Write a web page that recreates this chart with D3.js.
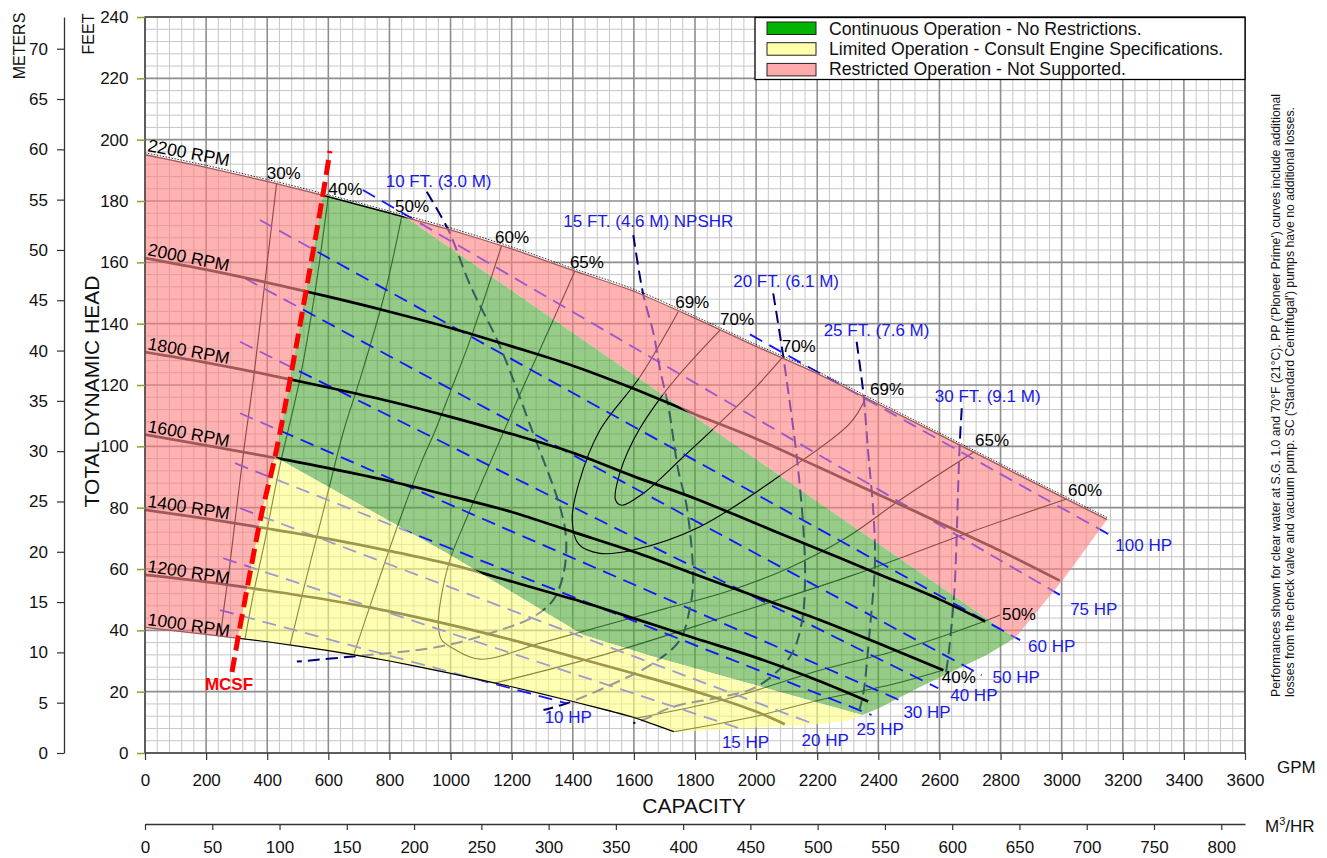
<!DOCTYPE html>
<html>
<head>
<meta charset="utf-8">
<script src="https://cdn.jsdelivr.net/npm/d3@7"></script>
<style>
  body { margin: 0; background: #fff; }
  svg { display: block; font-family: "Liberation Sans", Arial, sans-serif; }
</style>
</head>
<body>
<script>
// ---------- values (x = GPM, y = feet of head) ----------
const gpmTicks = [0, 200, 400, 600, 800, 1000, 1200, 1400, 1600, 1800, 2000, 2200, 2400, 2600, 2800, 3000, 3200, 3400, 3600];
const feetTicks = [0, 20, 40, 60, 80, 100, 120, 140, 160, 180, 200, 220, 240];
const meterTicks = [0, 5, 10, 15, 20, 25, 30, 35, 40, 45, 50, 55, 60, 65, 70];
const m3hTicks = [0, 50, 100, 150, 200, 250, 300, 350, 400, 450, 500, 550, 600, 650, 700, 750, 800];

// speed curves
const rpmNames = ['1000 RPM', '1200 RPM', '1400 RPM', '1600 RPM', '1800 RPM', '2000 RPM', '2200 RPM'];
const rpm1000 = [[0, 40.8], [200, 38.5], [400, 36.1], [600, 33.2], [800, 29.8], [1000, 25.8], [1200, 21.4], [1400, 16.6], [1600, 11.4], [1730, 6.8]];
const rpm1200 = [[0, 58.1], [200, 55.8], [400, 53.0], [600, 49.9], [800, 46.2], [1000, 41.8], [1200, 36.9], [1400, 31.4], [1600, 25.9], [1800, 20.1], [2000, 13.5], [2094, 9.4]];
const rpm1400 = [[0, 79.3], [200, 76.4], [400, 73.2], [600, 69.8], [800, 65.9], [1000, 61.5], [1200, 55.9], [1400, 50.2], [1600, 43.9], [1800, 37.4], [2000, 31.1], [2200, 23.7], [2367, 16.8]];
const rpm1600 = [[0, 103.8], [200, 100.3], [400, 96.7], [600, 92.9], [800, 88.7], [1000, 83.8], [1200, 78.6], [1400, 72.1], [1600, 65.6], [1800, 58.3], [2000, 51.0], [2200, 43.7], [2400, 35.8], [2613, 27.0]];
const rpm1800 = [[0, 130.7], [200, 127.3], [400, 123.4], [600, 119.2], [800, 114.7], [1000, 109.6], [1200, 104.0], [1400, 97.9], [1600, 90.2], [1800, 83.0], [2000, 74.8], [2200, 66.6], [2400, 58.4], [2600, 50.1], [2750, 42.9]];
const rpm2000 = [[0, 161.4], [200, 157.6], [400, 153.4], [600, 148.8], [800, 143.9], [1000, 138.6], [1200, 132.6], [1400, 126.3], [1600, 118.8], [1800, 110.5], [2000, 102.5], [2200, 93.4], [2400, 84.3], [2600, 75.1], [2800, 65.9], [2994, 56.2]];
const rpm2200 = [[0, 195.3], [200, 191.2], [400, 186.6], [600, 181.6], [800, 176.3], [1000, 170.8], [1200, 164.6], [1400, 157.6], [1600, 150.8], [1800, 142.0], [2000, 132.8], [2200, 124.0], [2400, 114.0], [2600, 104.0], [2800, 93.9], [3000, 83.8], [3150, 76.3]];

// region borders
const mcsfLine = [[284.7, 26.4], [310.9, 41.1], [350, 62], [382, 78.2], [425.4, 96.5], [474.5, 121.6], [533.4, 154.2], [579.3, 180.3], [605.4, 196.3]];
const pinkGreenEdge = [[834, 176], [2847, 37.5]];
const greenYellowEdge = [[425.4, 96.5], [1000, 64.5], [1434, 38.5], [1664, 31.4], [2329, 12.9]];
const envelopeEnd = [[1730, 6.8], [2000, 8.3], [2200, 9.4], [2300, 10.5], [2400, 14.5], [2536, 21.5], [2756, 32], [2847, 37.5], [3004, 56.4], [3150, 76.3]];

// efficiency contours
const eff30L = [[431, 186], [393, 154], [355, 122], [325, 100], [300, 80], [276, 60], [258, 47], [247, 38]];
const eff40L = [[600, 181.6], [556, 150], [507, 122], [440, 93], [390, 68], [355, 52], [327, 37]];
const eff40R = [[1728, 6.9], [2000, 12], [2209, 17.3], [2450, 22.5], [2611, 27]];
const eff50L = [[841, 175.4], [785, 150], [704, 122], [650, 105], [584, 79], [518, 53], [475, 35.3]];
const eff50R = [[1600, 11.2], [1900, 17.5], [2209, 27], [2500, 34.5], [2743, 42.8], [2798, 45]];
const eff60L = [[1167, 165.4], [1064, 134.7], [1000, 118], [945, 104], [905, 95], [830, 75], [740, 49], [684, 32.4]];
const eff60R = [[1145, 22.8], [1500, 32], [1900, 44.5], [2317, 58], [2689, 71.6], [3021, 83]];
const eff65 = [[1407, 157.2], [1336, 141.2], [1238, 119.4], [1129, 94.5], [1050, 76], [998, 63], [968, 50], [960, 42], [970, 37], [1010, 34], [1096, 30.6], [1300, 36], [1500, 41.5], [1700, 47], [1900, 52.5], [2100, 60], [2300, 70.5], [2471, 82.5], [2723, 98.8]];
const eff69 = [[1745, 143.9], [1620, 122.7], [1489, 105.3], [1420, 88], [1398, 76], [1420, 68], [1489, 65.1], [1598, 66.2], [1816, 73.8], [2089, 91.2], [2307, 107.5], [2360, 116]];
const eff70 = [[1882, 137.9], [1707, 118.4], [1598, 102], [1545, 88], [1540, 82.5], [1560, 80.8], [1631, 84.7], [1762, 96.6], [1980, 117.3], [2089, 129.3]];
const effCurves = [eff30L, eff40L, eff40R, eff50L, eff50R, eff60L, eff60R, eff65, eff69, eff70];
const effNames = ['30%', '40%', '40%', '50%', '50%', '60%', '60%', '65%', '69%', '70%'];

// horsepower lines
const hpNames = ['10 HP', '15 HP', '20 HP', '25 HP', '30 HP', '40 HP', '50 HP', '60 HP', '75 HP', '100 HP'];
const hp10 = [[245.5, 46.6], [1380, 16.2]];
const hp15 = [[256, 63.5], [1947, 8]];
const hp20 = [[311, 79.8], [2198, 9.1]];
const hp25 = [[294.5, 94.5], [2378, 12.4]];
const hp30 = [[311, 110.8], [2482, 16.7]];
const hp40 = [[311, 134.1], [2596, 21.1]];
const hp50 = [[327, 154.8], [2738, 25.4]];
const hp60 = [[376, 173.8], [2864, 36.8]];
const hp75 = [[713, 183.6], [2995, 51.5]];
const hp100 = [[1980, 136.5], [3169, 70.5]];
const hpLines = [hp10, hp15, hp20, hp25, hp30, hp40, hp50, hp60, hp75, hp100];

// NPSHR curves
const npshNames = ['10 FT. (3.0 M)', '15 FT. (4.6 M) NPSHR', '20 FT. (6.1 M)', '25 FT. (7.6 M)', '30 FT. (9.1 M)'];
const npsh10 = [[922, 183], [993, 170.5], [1064, 152.6], [1162, 132.5], [1270, 104.3], [1358, 80.3], [1378, 70], [1370, 58.6], [1336, 49.9], [1271, 44.4], [1162, 40.1], [966, 34.7], [671, 31.4], [497, 29.8]];
const npsh15 = [[1598, 168.9], [1631, 149.4], [1664, 136.9], [1686, 124.9], [1713, 112.9], [1745, 92.3], [1773, 80.3], [1794, 56.4], [1784, 47.7], [1751, 36.9], [1664, 29.3], [1511, 21.6], [1380, 16.2], [1304, 14]];
const npsh20 = [[2056, 149.9], [2084, 132.5], [2100, 121.6], [2133, 96.6], [2155, 72.7], [2160, 56.4], [2149, 42.3], [2111, 31.4], [2002, 21.6], [1893, 18.4], [1729, 15.1], [1642, 11.3], [1598, 9.7]];
const npsh25 = [[2329, 134.1], [2351, 117.3], [2367, 97.7], [2384, 78.2], [2389, 61.9], [2373, 41.2], [2351, 19.5], [2338, 14]];
const npsh30 = [[2673, 112.4], [2667, 102], [2662, 89], [2656, 69.5], [2651, 56.4], [2646, 48.8], [2629, 31.4], [2620, 25.5]];
const npshCurves = [npsh10, npsh15, npsh20, npsh25, npsh30];

const legendNames = ['Continuous Operation - No Restrictions.', 'Limited Operation - Consult Engine Specifications.', 'Restricted Operation - Not Supported.'];
const noteLines = [
  "Performances shown for clear water at S.G. 1.0 and 70\u00B0F (21\u00B0C). PP ('Pioneer Prime') curves include additional",
  "losses from the check valve and vacuum pump. SC ('Standard Centrifugal') pumps have no additional losses."
];

// ---------- layout ----------
var measurements = { width: 1327, height: 858 };
var plot = { left: 145, right: 1245, top: 17, bottom: 753 };

let svg = d3.select('body').append('svg')
    .attr('width', measurements.width)
    .attr('height', measurements.height);

var x = d3.scaleLinear().domain([0, 3600]).range([plot.left, plot.right]);
var y = d3.scaleLinear().domain([0, 240]).range([plot.bottom, plot.top]);
var xm3 = d3.scaleLinear().domain([0, 3600 / 4.40287]).range([plot.left, plot.right]);
var ym = d3.scaleLinear().domain([0, 240 * 0.3048]).range([plot.bottom, plot.top]);

function polyPath(p) {
  return 'M' + p.map(function(d) { return x(d[0]) + ',' + y(d[1]); }).join('L') + 'Z';
}
// point on line a->b (extended) where head == ft
function extendTo(a, b, ft) {
  var t = (ft - a[1]) / (b[1] - a[1]);
  return [a[0] + t * (b[0] - a[0]), ft];
}

// ---------- zones built from the borders ----------
var envelope = rpm2200.concat(envelopeEnd.slice().reverse(), rpm1000.slice().reverse());
var gy = greenYellowEdge;
var mcsfBottom = extendTo(mcsfLine[1], mcsfLine[0], -5);
var mcsfTop = extendTo(mcsfLine[mcsfLine.length - 2], mcsfLine[mcsfLine.length - 1], 215);
var pgLow = extendTo(pinkGreenEdge[0], pinkGreenEdge[1], -5);
var gyLow = extendTo(gy[gy.length - 2], gy[gy.length - 1], -5);
var mcsfUpper = mcsfLine.filter(function(d) { return d[1] > gy[0][1]; });
var mcsfLower = mcsfLine.filter(function(d) { return d[1] < gy[0][1]; });

var greenZone = [mcsfTop, pinkGreenEdge[0], pinkGreenEdge[1], pgLow, gyLow]
    .concat(gy.slice().reverse(), mcsfUpper);
var yellowZone = gy.concat([gyLow, mcsfBottom], mcsfLower);
var pinkLeft = [[-300, -5], mcsfBottom].concat(mcsfLine, [mcsfTop, [mcsfTop[0], 400], [-300, 400]]);
var pinkRight = [mcsfTop, pinkGreenEdge[0], pinkGreenEdge[1], pgLow, [6000, -5], [6000, 400], [mcsfTop[0], 400]];

var defs = svg.append('defs');
function addClip(id, polys) {
  var cp = defs.append('clipPath').attr('id', id).attr('clipPathUnits', 'userSpaceOnUse');
  polys.forEach(function(p) { cp.append('path').attr('d', polyPath(p)); });
}
addClip('clipEnv', [envelope]);
addClip('clip_pink', [pinkLeft, pinkRight]);
addClip('clip_green', [greenZone]);
addClip('clip_yellow', [yellowZone]);
defs.append('clipPath').attr('id', 'clipOut').attr('clipPathUnits', 'userSpaceOnUse')
  .append('path')
    .attr('clip-rule', 'evenodd')
    .attr('d', 'M0,0H' + measurements.width + 'V' + measurements.height + 'H0Z' + polyPath(envelope));

// ---------- grid ----------
var grid = svg.append('g');
var minorX = d3.range(0, 3601, 40).filter(function(v) { return v % 200 !== 0; });
var minorY = d3.range(0, 241, 4).filter(function(v) { return v % 20 !== 0; });
grid.selectAll('.mx').data(minorX).enter().append('line')
    .attr('x1', d => x(d)).attr('x2', d => x(d)).attr('y1', plot.top).attr('y2', plot.bottom)
    .attr('stroke', '#c6c6c6').attr('stroke-width', 1);
grid.selectAll('.my').data(minorY).enter().append('line')
    .attr('y1', d => y(d)).attr('y2', d => y(d)).attr('x1', plot.left).attr('x2', plot.right)
    .attr('stroke', '#c6c6c6').attr('stroke-width', 1);
grid.selectAll('.Mx').data(gpmTicks).enter().append('line')
    .attr('x1', d => x(d)).attr('x2', d => x(d)).attr('y1', plot.top).attr('y2', plot.bottom)
    .attr('stroke', '#8e8e8e').attr('stroke-width', 1.6);
grid.selectAll('.My').data(feetTicks).enter().append('line')
    .attr('y1', d => y(d)).attr('y2', d => y(d)).attr('x1', plot.left).attr('x2', plot.right)
    .attr('stroke', '#8e8e8e').attr('stroke-width', 1.6);

// ---------- zone fills (translucent, grid shows through) ----------
var fills = svg.append('g').attr('clip-path', 'url(#clipEnv)').attr('opacity', 0.6);
fills.append('path').attr('d', polyPath(pinkLeft) + polyPath(pinkRight)).attr('fill', '#ff7f7f');
fills.append('path').attr('d', polyPath(greenZone)).attr('fill', '#50a83a');
fills.append('path').attr('d', polyPath(yellowZone)).attr('fill', '#ffff82');

// ---------- lines coloured by the zone they cross ----------
function layer() {
  var g = svg.append('g');
  return { out: g.append('g').attr('clip-path', 'url(#clipOut)'),
           env: g.append('g').attr('clip-path', 'url(#clipEnv)') };
}
function drawZoned(L, pts, curve, colors, width, dash) {
  var d = d3.line().x(p => x(p[0])).y(p => y(p[1])).curve(curve)(pts);
  ['out', 'pink', 'green', 'yellow'].forEach(function(z) {
    if (!colors[z]) return;
    var p = (z === 'out' ? L.out : L.env).append('path')
        .attr('d', d).attr('fill', 'none')
        .attr('stroke', colors[z]).attr('stroke-width', width);
    if (z !== 'out') p.attr('clip-path', 'url(#clip_' + z + ')');
    if (dash) p.attr('stroke-dasharray', dash);
  });
}

// efficiency contours
var effLayer = layer();
effCurves.forEach(function(c, i) {
  var strong = effNames[i] === '69%' || effNames[i] === '70%';
  drawZoned(effLayer, c, d3.curveCatmullRom.alpha(0.5),
    { pink: '#8a4848', green: strong ? '#000' : '#2f6a2f', yellow: '#8a883c' }, 1.1);
});

// horsepower lines
var hpLayer = layer();
hpLines.forEach(function(c) {
  drawZoned(hpLayer, c, d3.curveLinear,
    { out: '#1414ff', pink: '#9a58cc', green: '#1414ff', yellow: '#9c9cd0' }, 1.8, '14,8');
});

// NPSHR lines
var npLayer = layer();
npshCurves.forEach(function(c) {
  drawZoned(npLayer, c, d3.curveCatmullRom.alpha(0.5),
    { out: '#00007a', pink: '#9050a8', green: '#2f5f5f', yellow: '#9a9a9a' }, 2, '12,6');
});

// speed curves
var rpmLayer = layer();
var rpmCurves = [rpm1000, rpm1200, rpm1400, rpm1600, rpm1800, rpm2000, rpm2200];
rpmCurves.forEach(function(c, i) {
  drawZoned(rpmLayer, c, d3.curveMonotoneX,
    { pink: '#a25858', green: '#000', yellow: i === 0 ? '#000' : '#9e9650' }, i === 0 ? 2.2 : 2.7);
});
// fine dotted rim on top of the 2200 RPM curve
svg.append('path')
    .attr('d', d3.line().x(p => x(p[0])).y(p => y(p[1]) - 1.3).curve(d3.curveMonotoneX)(rpm2200))
    .attr('fill', 'none').attr('stroke', '#000').attr('stroke-width', 0.8).attr('stroke-dasharray', '1.5,1.5');

// MCSF line
svg.append('path')
    .attr('d', d3.line().x(p => x(p[0])).y(p => y(p[1])).curve(d3.curveCatmullRom)(mcsfLine))
    .attr('fill', 'none').attr('stroke', '#ff0000').attr('stroke-width', 5).attr('stroke-dasharray', '15,7');
svg.append('text')
    .attr('x', x(mcsfLine[0][0]) - 3).attr('y', y(mcsfLine[0][1]) + 18)
    .attr('text-anchor', 'middle').attr('font-size', 17).attr('font-weight', 'bold')
    .attr('fill', '#ff0000').text('MCSF');

// plot frame
svg.append('rect')
    .attr('x', plot.left).attr('y', plot.top)
    .attr('width', plot.right - plot.left).attr('height', plot.bottom - plot.top)
    .attr('fill', 'none').attr('stroke', '#444').attr('stroke-width', 1.5);

// ---------- labels ----------
var rpmAngle = [8.3, 8.3, 8.8, 10.6, 10.4, 11.5, 10.6];
rpmCurves.forEach(function(c, i) {
  var tx = x(0) + 2, ty = y(c[0][1]) - 3;
  svg.append('text')
      .attr('transform', 'translate(' + tx + ',' + ty + ') rotate(' + rpmAngle[i] + ')')
      .attr('font-size', 17.5).attr('fill', '#000').text(rpmNames[i]);
});

// efficiency labels: [which end, dx, dy] (second entry for the right end of loops)
var effLabelPlace = [
  [['start', -10, -3.6]], [['start', 0, -1]], [['end', -1, 13]],
  [['start', -7, -2.8]], [['end', 2, 5]], [['start', -6.6, -2.5]], [['end', 0, -2]],
  [['start', -5, -2.6], ['end', -2, -4.3]],
  [['start', -3, -3.4], ['end', 4, -2.3]],
  [['start', 0, -5], ['end', -1.6, -4.8]]
];
effCurves.forEach(function(c, i) {
  effLabelPlace[i].forEach(function(pl) {
    var p = pl[0] === 'start' ? c[0] : c[c.length - 1];
    svg.append('text')
        .attr('x', x(p[0]) + pl[1]).attr('y', y(p[1]) + pl[2])
        .attr('font-size', 17).attr('fill', '#000').text(effNames[i]);
  });
});

var hpLabelNudge = [[-22, 20], [-18, 20], [-15, 21], [-15, 20], [0, 16], [12, 13], [11, 8], [8, 12], [10, 20], [2, 14]];
hpLines.forEach(function(c, i) {
  var p = c[c.length - 1];
  svg.append('text')
      .attr('x', x(p[0]) + hpLabelNudge[i][0]).attr('y', y(p[1]) + hpLabelNudge[i][1])
      .attr('font-size', 17).attr('fill', '#1a1ae6').text(hpNames[i]);
});

var npshLabelNudge = [[-41, -5], [-70, -8], [-40, -6], [-33, -6], [-27, -6]];
npshCurves.forEach(function(c, i) {
  var p = c[0];
  svg.append('text')
      .attr('x', x(p[0]) + npshLabelNudge[i][0]).attr('y', y(p[1]) + npshLabelNudge[i][1])
      .attr('font-size', 17).attr('fill', '#1a1ae6').text(npshNames[i]);
});

// ---------- axes ----------
var plain = d3.format('d');
var xAxis = svg.append('g')
    .attr('transform', 'translate(0,' + plot.bottom + ')')
    .call(d3.axisBottom(x).tickValues(gpmTicks).tickFormat(plain).tickSize(7).tickSizeOuter(0).tickPadding(14));
var feetAxis = svg.append('g')
    .attr('transform', 'translate(' + plot.left + ',0)')
    .call(d3.axisLeft(y).tickValues(feetTicks).tickFormat(plain).tickSize(8).tickSizeOuter(0).tickPadding(8.5));
var meterAxis = svg.append('g')
    .attr('transform', 'translate(64,0)')
    .call(d3.axisLeft(ym).tickValues(meterTicks).tickFormat(plain).tickSize(7).tickSizeOuter(0).tickPadding(9));
var m3Axis = svg.append('g')
    .attr('transform', 'translate(0,824)')
    .call(d3.axisBottom(xm3).tickValues(m3hTicks).tickFormat(plain).tickSize(6).tickSizeOuter(0).tickPadding(11));

[xAxis, feetAxis, meterAxis, m3Axis].forEach(function(a) {
  a.attr('font-family', null).attr('font-size', null);
  a.selectAll('text').attr('font-size', 17).attr('fill', '#111');
  a.selectAll('line').attr('stroke', '#333').attr('stroke-width', 1.2);
  a.select('.domain').attr('stroke', '#333').attr('stroke-width', 1.3);
});
xAxis.select('.domain').remove();
feetAxis.select('.domain').remove();
feetAxis.selectAll('line').attr('stroke', '#9a9a2a').attr('stroke-width', 1.5);

// axis titles
svg.append('text').attr('x', 694).attr('y', 813).attr('text-anchor', 'middle')
    .attr('font-size', 21).attr('fill', '#111').text('CAPACITY');
svg.append('text').attr('transform', 'translate(99,391.5) rotate(-90)').attr('text-anchor', 'middle')
    .attr('font-size', 21).attr('fill', '#111').text('TOTAL DYNAMIC HEAD');
svg.append('text').attr('transform', 'translate(94,34) rotate(-90)').attr('text-anchor', 'middle')
    .attr('font-size', 16).attr('fill', '#111').text('FEET');
svg.append('text').attr('transform', 'translate(25,46) rotate(-90)').attr('text-anchor', 'middle')
    .attr('font-size', 16).attr('fill', '#111').text('METERS');
svg.append('text').attr('x', 1277).attr('y', 773)
    .attr('font-size', 17).attr('fill', '#111').text('GPM');
var m3t = svg.append('text').attr('x', 1265).attr('y', 832).attr('font-size', 17).attr('fill', '#111');
m3t.append('tspan').text('M');
m3t.append('tspan').attr('font-size', 11).attr('dy', -7).text('3');
m3t.append('tspan').attr('dy', 7).text('/HR');

// side note
noteLines.forEach(function(t, i) {
  svg.append('text')
      .attr('transform', 'translate(' + (1280 + i * 14) + ',697) rotate(-90)')
      .attr('font-size', 12).attr('fill', '#111')
      .attr('textLength', i === 0 ? 603 : 590).attr('lengthAdjust', 'spacingAndGlyphs')
      .text(t);
});

// ---------- legend ----------
var legend = svg.append('g');
legend.append('rect').attr('x', 755).attr('y', 17.5).attr('width', 490).attr('height', 62)
    .attr('fill', '#fff').attr('stroke', '#000').attr('stroke-width', 1.3);
var swatchFill = ['#00b400', '#ffffaa', '#ffaaaa'];
legendNames.forEach(function(name, i) {
  legend.append('rect').attr('x', 767).attr('y', 22 + i * 20.7).attr('width', 49).attr('height', 12.5)
      .attr('fill', swatchFill[i]).attr('stroke', '#222').attr('stroke-width', 1);
  legend.append('text').attr('x', 829).attr('y', 34.5 + i * 20.3)
      .attr('font-size', 17.7).attr('fill', '#111').text(name);
});
</script>
</body>
</html>
